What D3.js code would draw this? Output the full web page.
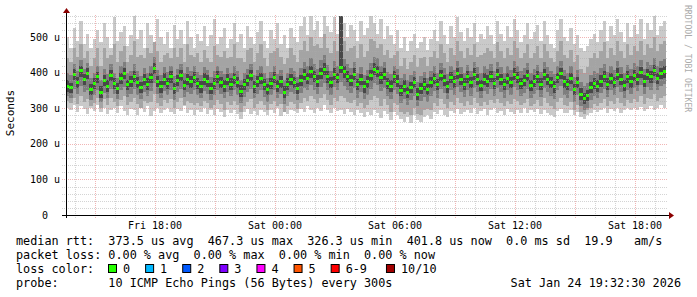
<!DOCTYPE html>
<html>
<head>
<meta charset="utf-8">
<script src="https://cdn.jsdelivr.net/npm/d3@7"></script>
<style>
body{margin:0;background:#fff;}
svg{display:block;font-family:"DejaVu Sans Mono",monospace;}
.legend{font-size:11.8px;white-space:pre;}
</style>
</head>
<body>
<script>
// smokeping rtt in microseconds, one column per 10 minutes, first column Fri 13:33
var med = [362,358,395,372,405,380,398,352,370,388, 345,378,362,392,370,355,384,398,366,375,
  390,372,358,380,368,385,412,375,360,382, 370,388,356,378,392,365,380,374,386,370,
  360,382,376,355,370,388,372,362,380,368, 385,372,348,366,378,392,360,375,384,366,
  352,370,386,362,374,345,368,380,372,356, 378,395,384,402,390,376,398,410,388,372,
  396,385,415,402,390,378,395,366,380,360, 374,392,410,404,385,396,370,362,388,376,
  350,362,344,358,372,340,356,368,352,372, 384,366,392,378,360,386,374,398,380,368,
  388,372,396,380,364,382,376,390,370,394, 380,366,384,372,396,386,370,378,392,364,
  376,388,368,394,380,372,360,385,398,374, 366,384,352,372,340,328,336,358,370,362,
  376,390,368,384,372,396,380,364,388,374, 392,382,400,376,394,388,406,384,398,402];

// ping 10 (max) and ping 1 (min)
var hi1 = [500,470,525,490,545,480,510,470,495,520, 485,540,500,470,555,490,515,530,475,505,
  560,495,520,470,540,505,485,550,500,480, 515,470,535,495,520,480,545,500,470,510,
  490,530,475,505,550,480,500,525,470,495, 540,485,510,470,530,500,480,515,545,490,
  470,520,495,540,480,505,470,525,500,485, 530,555,505,560,520,545,500,560,530,515,
  555,510,560,540,500,535,520,490,545,505, 525,560,540,510,550,495,530,505,480,520,
  470,500,460,490,510,470,485,500,465,495, 520,490,545,505,480,530,500,555,515,490,
  525,500,540,485,510,495,530,505,480,545, 510,490,530,500,550,520,485,505,540,495,
  515,535,490,545,505,480,470,520,550,500, 490,525,480,505,470,460,475,495,510,485,
  520,545,490,530,505,550,515,485,540,500, 535,510,550,495,540,520,560,505,530,545];
var lo1 = [300,295,310,290,305,298,285,300,292,308, 290,302,285,296,300,288,305,292,280,298,
  295,282,300,290,305,278,292,300,286,296, 300,290,284,298,292,305,288,296,280,294,
  290,300,285,295,282,298,290,276,294,288, 296,285,270,290,298,284,292,280,296,290,
  282,295,288,300,278,290,284,296,292,286, 298,290,305,296,288,300,292,308,294,286,
  300,292,296,284,298,290,282,294,286,276, 290,280,296,288,272,292,284,266,290,282,
  270,262,276,258,280,268,260,274,282,270, 290,284,296,282,276,292,286,298,284,290,
  296,288,300,284,292,298,282,294,300,288, 292,282,298,290,284,296,288,300,286,294,
  290,298,284,296,288,280,276,292,298,286, 288,294,280,290,276,270,282,286,294,290,
  296,300,288,298,292,302,286,294,300,296, 300,294,304,292,298,306,296,300,308,302];

// ping 9 and ping 2
var hi2 = [440,430,470,445,480,440,460,420,440,470, 420,470,440,450,480,430,460,475,430,450,
  490,445,450,440,470,455,485,460,430,450, 455,440,470,445,470,430,480,450,445,455,
  430,465,440,430,475,450,445,460,440,445, 480,440,440,430,465,470,430,455,480,440,
  420,455,460,470,445,425,440,470,450,430, 465,490,460,500,475,480,470,510,470,455,
  490,460,520,490,460,470,475,440,480,445, 460,495,490,470,480,450,465,440,450,460,
  420,440,410,430,450,415,440,445,420,445, 460,440,480,455,430,470,450,490,460,440,
  470,450,480,445,450,455,470,460,440,485, 460,440,470,450,490,470,440,455,480,440,
  455,475,440,480,460,440,430,460,490,450, 440,465,430,450,410,400,415,440,455,440,
  460,485,440,470,450,490,460,440,480,450, 475,460,490,450,480,470,500,460,480,490];
var lo2 = [320,315,330,312,335,318,325,305,315,330, 300,325,310,330,318,305,322,335,310,318,
  330,312,300,320,315,318,340,315,305,322, 315,325,300,318,330,310,320,316,310,315,
  305,320,315,300,310,322,312,295,318,310, 320,310,290,305,318,325,300,312,320,308,
  295,312,320,305,312,290,305,318,312,298, 315,330,320,335,325,315,330,340,322,310,
  330,320,335,330,318,315,322,305,315,300, 310,322,335,330,305,325,308,290,315,308,
  290,285,290,280,300,285,282,295,298,295, 315,305,325,312,300,318,308,330,315,305,
  320,310,328,315,305,318,310,322,315,325, 315,305,320,312,325,320,308,315,325,305,
  312,322,305,328,315,305,298,318,330,310, 305,318,295,310,290,285,295,300,312,305,
  315,325,305,320,312,330,315,305,322,315, 325,318,335,312,328,325,340,320,330,335];

// ping 8 and ping 3
var hi3 = [400,392,425,405,435,410,428,385,400,420, 380,410,395,425,400,385,418,430,398,405,
  425,405,390,412,400,418,445,408,392,415, 402,420,390,410,425,398,415,405,418,402,
  392,415,408,388,405,420,405,395,412,400, 420,405,380,398,410,425,392,408,418,398,
  385,402,420,395,408,378,400,412,405,388, 412,430,418,440,425,410,435,450,422,405,
  432,420,455,438,425,412,430,398,415,392, 408,428,445,440,420,430,402,395,420,410,
  385,395,378,392,405,375,390,402,385,405, 418,400,428,412,395,420,408,432,415,400,
  422,405,430,415,398,418,410,425,405,430, 415,400,420,408,432,420,405,412,428,398,
  410,422,402,430,415,405,395,420,432,408, 400,418,388,408,375,362,372,392,405,398,
  412,425,402,418,408,432,415,398,422,410, 428,418,435,410,430,422,440,418,432,438];
var lo3 = [335,330,355,340,362,345,352,322,338,350, 318,342,330,355,340,325,350,360,332,340,
  355,338,325,345,335,348,372,340,328,348, 338,350,322,345,355,332,345,340,350,338,
  328,348,340,322,338,350,340,328,345,335, 350,338,315,332,345,355,328,340,350,332,
  318,338,350,330,340,312,335,345,340,322, 342,358,350,365,352,340,360,372,352,338,
  360,350,375,362,352,342,358,330,345,325, 338,355,372,365,348,358,335,325,352,340,
  315,325,308,322,335,305,320,332,318,335, 348,330,355,342,325,350,338,360,345,332,
  352,335,358,345,328,348,340,355,335,358, 345,330,350,338,360,350,335,342,355,328,
  340,352,332,358,345,335,325,350,362,338, 330,348,318,338,305,295,302,322,335,328,
  342,355,332,350,338,360,345,330,352,340, 358,348,365,340,360,352,370,350,362,368];

// ping 7 and ping 4 (dark core)
var hi4 = [378,372,410,388,420,395,412,368,385,402, 362,392,378,408,385,370,400,414,380,390,
  405,388,374,396,384,400,428,390,376,398, 386,404,372,394,408,380,396,390,402,386,
  376,398,392,372,386,404,388,378,396,384, 400,388,364,382,394,408,376,390,400,382,
  368,386,402,378,390,362,384,396,388,372, 394,410,400,420,406,392,414,428,404,388,
  412,400,560,420,406,394,412,382,396,376, 390,408,428,420,402,412,386,378,404,392,
  366,378,360,374,388,358,372,384,368,388, 400,382,408,394,376,402,390,414,396,384,
  404,388,412,396,380,398,392,406,386,410, 396,382,400,388,412,402,386,394,408,380,
  392,404,384,410,396,388,376,400,414,390, 382,400,368,388,356,344,352,374,386,378,
  392,406,384,400,388,412,396,380,404,390, 408,398,416,392,410,404,422,400,414,418];
var lo4 = [346,342,378,356,388,364,382,336,354,372, 328,362,346,376,354,340,368,382,350,360,
  374,356,342,364,352,370,396,360,344,366, 354,372,340,362,376,350,364,358,370,354,
  344,366,360,340,354,372,356,346,364,352, 368,356,332,350,362,376,344,360,368,350,
  336,354,370,346,358,328,352,364,356,340, 362,378,368,384,374,360,382,392,372,356,
  380,370,398,384,374,362,378,350,364,344, 358,376,392,388,368,380,354,346,372,360,
  334,346,328,342,356,324,340,352,336,356, 368,350,376,362,344,370,358,382,364,352,
  372,356,380,364,348,366,360,374,354,378, 364,350,368,356,380,370,354,362,376,348,
  360,372,352,378,364,356,344,370,382,358, 350,368,336,356,324,312,320,342,354,346,
  360,374,352,368,356,380,364,348,372,358, 376,366,384,360,378,372,390,368,382,386];

var lossLabels = ["0","1","2","3","4","5","6-9","10/10"];
var lossColors = ["#26ff00","#00b8ff","#0059ff","#7e00ff","#ff00ff","#ff5500","#ff0000","#a10000"];

var legendLines = [
  "median rtt:  373.5 us avg  467.3 us max  326.3 us min  401.8 us now  0.0 ms sd  19.9   am/s",
  "packet loss: 0.00 % avg  0.00 % max  0.00 % min  0.00 % now",
  "loss color:",
  "probe:       10 ICMP Echo Pings (56 Bytes) every 300s"
];
var stampText = "Sat Jan 24 19:32:30 2026";

var startTime = new Date(2026, 0, 23, 13, 33);
var stepMs = 10 * 60 * 1000;

drawChart();

function drawChart(){
  var width = 697, height = 297;
  var svg = d3.select("body").append("svg")
    .attr("width", width)
    .attr("height", height);

  var x = d3.scaleTime()
    .domain([startTime, new Date(2026, 0, 24, 19, 39)])
    .range([66, 668]);
  var y = d3.scaleLinear()
    .domain([0, 562])
    .range([215, 15]);

  function colTime(i){ return new Date(startTime.getTime() + i * stepMs); }

  // smoke bands, outer first
  var bands = [[lo1, hi1, "#cacaca"], [lo2, hi2, "#a4a4a4"], [lo3, hi3, "#7e7e7e"], [lo4, hi4, "#484848"]];
  var smoke = svg.append("g").attr("shape-rendering", "crispEdges");
  bands.forEach(function(b, k){
    smoke.selectAll(".band" + k)
      .data(med)
      .enter()
      .append("rect")
      .attr("class", "band" + k)
      .attr("x", function(d, i){ return x(colTime(i)); })
      .attr("width", function(d, i){ return x(colTime(i + 1)) - x(colTime(i)); })
      .attr("y", function(d, i){ return y(b[1][i]); })
      .attr("height", function(d, i){ return y(b[0][i]) - y(b[1][i]); })
      .attr("fill", b[2]);
  });

  // median, coloured by loss (all zero loss here)
  smoke.selectAll(".median")
    .data(med)
    .enter()
    .append("rect")
    .attr("class", "median")
    .attr("x", function(d, i){ return x(colTime(i)); })
    .attr("width", function(d, i){ return x(colTime(i + 1)) - x(colTime(i)); })
    .attr("y", function(d){ return y(d) - 1.5; })
    .attr("height", 3)
    .attr("fill", lossColors[0]);

  // grid
  var grid = svg.append("g").attr("shape-rendering", "crispEdges");
  var hours = d3.timeHour.range(x.domain()[0], x.domain()[1]);
  grid.selectAll(".vgrid")
    .data(hours)
    .enter()
    .append("line")
    .attr("x1", function(d){ return Math.round(x(d)) + 0.5; })
    .attr("x2", function(d){ return Math.round(x(d)) + 0.5; })
    .attr("y1", 15)
    .attr("y2", 218)
    .attr("stroke", function(d){ return d.getHours() % 3 == 0 ? "rgba(230,120,120,0.55)" : "rgba(170,170,170,0.5)"; })
    .attr("stroke-dasharray", "1,1");

  var yTicks = d3.range(20, 562, 20);
  grid.selectAll(".hgrid")
    .data(yTicks)
    .enter()
    .append("line")
    .attr("x1", 62)
    .attr("x2", 668)
    .attr("y1", function(d){ return Math.round(y(d)) + 0.5; })
    .attr("y2", function(d){ return Math.round(y(d)) + 0.5; })
    .attr("stroke", function(d){ return d % 100 == 0 ? "rgba(230,120,120,0.55)" : "rgba(170,170,170,0.5)"; })
    .attr("stroke-dasharray", "1,1");

  // axes
  svg.append("line")
    .attr("x1", 62).attr("x2", 671)
    .attr("y1", 215.5).attr("y2", 215.5)
    .attr("stroke", "#000");
  svg.append("line")
    .attr("x1", 66.5).attr("x2", 66.5)
    .attr("y1", 218).attr("y2", 11)
    .attr("stroke", "#000");
  svg.append("path")
    .attr("d", "M669,212L674,215.5L669,219Z")
    .attr("fill", "#8b0000");
  svg.append("path")
    .attr("d", "M63,13L66.5,8L70,13Z")
    .attr("fill", "#8b0000");

  // y labels
  svg.selectAll(".ylab")
    .data(d3.range(0, 501, 100))
    .enter()
    .append("text")
    .attr("x", function(d){ return d == 0 ? 48 : 60; })
    .attr("y", function(d){ return y(d); })
    .attr("dy", "0.36em")
    .attr("text-anchor", "end")
    .attr("font-size", "10px")
    .text(function(d){ return d == 0 ? "0" : d + " u"; });

  // x labels every 6 hours
  var fmt = d3.timeFormat("%a %H:%M");
  svg.selectAll(".xlab")
    .data(d3.timeHour.every(6).range(x.domain()[0], x.domain()[1]))
    .enter()
    .append("text")
    .attr("x", function(d){ return x(d); })
    .attr("y", 228.5)
    .attr("text-anchor", "middle")
    .attr("font-size", "10px")
    .text(fmt);

  svg.append("text")
    .attr("transform", "translate(14,113) rotate(-90)")
    .attr("text-anchor", "middle")
    .attr("font-size", "11px")
    .text("Seconds");

  svg.append("text")
    .attr("transform", "translate(685,5) rotate(90)")
    .attr("font-size", "8.1px")
    .attr("fill", "#aaa")
    .text("RRDTOOL / TOBI OETIKER");

  // legend
  svg.selectAll(".legend")
    .data(legendLines)
    .enter()
    .append("text")
    .attr("class", "legend")
    .attr("x", 16)
    .attr("y", function(d, i){ return 245 + i * 14; })
    .text(function(d){ return d; });

  var bx = 108;
  lossLabels.forEach(function(lab, k){
    svg.append("rect")
      .attr("x", bx + 0.5).attr("y", 264.5)
      .attr("width", 8).attr("height", 8)
      .attr("fill", lossColors[k])
      .attr("stroke", "#000");
    var t = svg.append("text")
      .attr("class", "legend")
      .attr("x", bx + 15)
      .attr("y", 273)
      .text(lab);
    bx = bx + 15 + t.node().getComputedTextLength() + 15 + (lab.length > 1 ? 4 : 0);
  });

  svg.append("text")
    .attr("class", "legend")
    .attr("x", 681)
    .attr("y", 287)
    .attr("text-anchor", "end")
    .text(stampText);
}
</script>
</body>
</html>
